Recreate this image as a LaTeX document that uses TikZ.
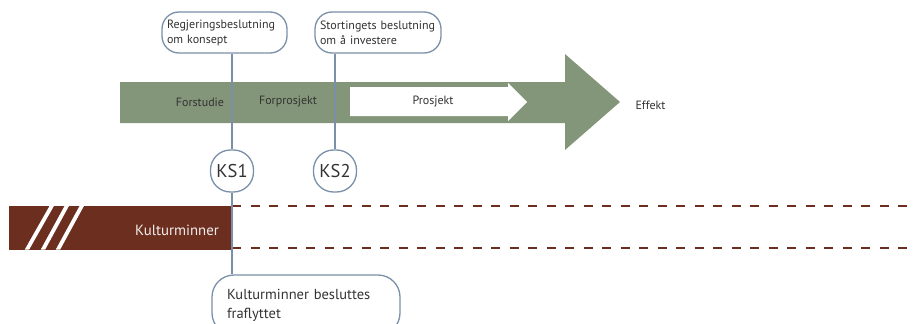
\documentclass[tikz,border=0pt]{standalone}
\usepackage{fontspec}
\setmainfont{PT Sans}
\definecolor{sage}{HTML}{84967A}
\definecolor{rust}{HTML}{6B2E1F}
\definecolor{edge}{HTML}{7A90A8}
\definecolor{ink}{HTML}{333333}
\tikzset{
  bubble/.style={draw=edge, line width=1.3pt, fill=white, rounded corners=17pt,
    align=left, text=ink, font=\fontsize{12}{15}\selectfont, inner xsep=5pt, inner ysep=3pt},
  gate/.style={draw=edge, line width=1.3pt, fill=white, rounded corners=20pt,
    minimum width=43pt, minimum height=42pt, inner sep=0pt, text=ink,
    font=\fontsize{18.5}{21}\selectfont},
  link/.style={draw=edge, line width=1.3pt},
  phase/.style={text=ink, font=\fontsize{12}{14}\selectfont},
  track/.style={draw=rust, line width=1.5pt, dash pattern=on 9pt off 9.5pt}
}
\begin{document}
\begin{tikzpicture}[x=1pt, y=-1pt]
\useasboundingbox (0,0) rectangle (916,324);
\clip (0,0) rectangle (916,324);
% main timeline arrow
\fill[sage] (120,82) -- (565,82) -- (565,54) -- (620,102) -- (565,150) -- (565,123) -- (120,123) -- cycle;
\fill[white] (350,87) -- (508,87) -- (508,83) -- (527,102) -- (508,121) -- (508,116) -- (350,116) -- cycle;
\node[phase] (forstudie) at (200,102) {Forstudie};
\node[phase] (forprosjekt) at (288,102) {Forprosjekt};
\node[phase] (prosjekt) at (433,102) {Prosjekt};
\node[phase, anchor=west] (effekt) at (632,105) {Effekt};
% heritage band with break marks
\fill[rust] (9,205.5) rectangle (232,249.5);
\foreach \a/\b in {27/52, 43/67, 58/82}
  \fill[white] (\a-2.2,249.5) -- (\a+2.2,249.5) -- (\b+2.2,205.5) -- (\b-2.2,205.5) -- cycle;
\node[text=white!92!rust, font=\fontsize{14.8}{17}\selectfont] (kultur) at (177,230) {Kulturminner};
\coordinate (dtop) at (232,206);
\coordinate (dbot) at (232,248);
\draw[track] (dtop) -- (916,206);
\draw[track] (dbot) -- (916,248);
% decision bubbles and gates
\node[bubble, minimum width=125pt, minimum height=41pt, text width=115pt] (regj) at (224.5,32.5) {Regjeringsbeslutning\\om konsept};
\node[bubble, minimum width=126pt, minimum height=41pt, text width=116pt] (storting) at (378,32.5) {Stortingets beslutning\\om å investere};
\node[gate] (ks1) at (232,171) {KS1};
\node[gate] (ks2) at (335,171) {KS2};
\node[bubble, rounded corners=22pt, minimum width=188pt, minimum height=60pt, text width=158pt,
      font=\fontsize{14.5}{19}\selectfont, inner xsep=15pt] (fraflytt) at (306,305) {Kulturminner besluttes\\fraflyttet};
\draw[link] (regj.south -| ks1) -- (ks1.north);
\draw[link] (storting.south -| ks2) -- (ks2.north);
\draw[link] (ks1.south) -- (ks1.south |- fraflytt.north);
\end{tikzpicture}
\end{document}
